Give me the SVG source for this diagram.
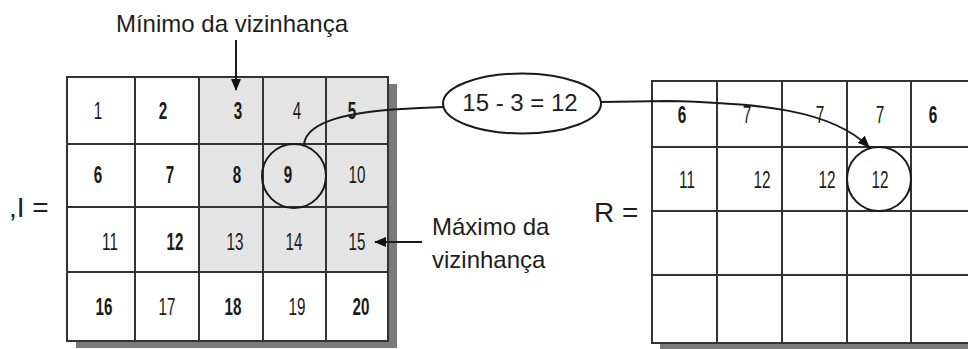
<svg xmlns="http://www.w3.org/2000/svg" width="968" height="349" viewBox="0 0 968 349">
<style>
.lbl{font-family:"Liberation Sans",Arial,sans-serif;font-size:24px;fill:#1e1e1e}
.eq{font-family:"Liberation Sans",Arial,sans-serif;font-size:28px;fill:#1e1e1e}
.n{font-family:"Liberation Sans",Arial,sans-serif;font-size:23px;fill:#1a1a1a;text-anchor:middle}
.r{font-size:24px}
.b{font-weight:bold}
.grid{fill:none;stroke:#333;stroke-width:2}
.shade{fill:#e4e4e4}
.shadow{fill:#7a7a7a}
.conn{fill:none;stroke:#1a1a1a;stroke-width:2}
.ring{fill:none;stroke:#1a1a1a;stroke-width:2}
</style>
<defs>
<marker id="ah" viewBox="0 0 12 10" refX="11" refY="5" markerWidth="12" markerHeight="10" markerUnits="userSpaceOnUse" orient="auto">
<path d="M0,0 L12,5 L0,10 Z" fill="#111"/>
</marker>
</defs>
<rect width="968" height="349" fill="#fff"/>

<g id="grid-I">
<rect class="shadow" x="388" y="84" width="9" height="264"/>
<rect class="shadow" x="76" y="341" width="321" height="7"/>
<rect x="67" y="77" width="321" height="264" fill="#fff"/>
<rect class="shade" x="199" y="77" width="189" height="195"/>
<path class="grid" d="M67,77 H388 V341 H67 Z M135,77 V341 M199,77 V341 M263,77 V341 M326,77 V341 M67,144 H388 M67,207 H388 M67,272 H388"/>
<text class="n" transform="translate(98 119) scale(0.66 1)">1</text>
<text class="n b" transform="translate(163 119) scale(0.66 1)">2</text>
<text class="n b" transform="translate(238 119) scale(0.66 1)">3</text>
<text class="n" transform="translate(297 119) scale(0.66 1)">4</text>
<text class="n b" transform="translate(352 119) scale(0.66 1)">5</text>
<text class="n b" transform="translate(98 183) scale(0.66 1)">6</text>
<text class="n b" transform="translate(170 183) scale(0.66 1)">7</text>
<text class="n b" transform="translate(237 183) scale(0.66 1)">8</text>
<text class="n b" transform="translate(288 183) scale(0.66 1)">9</text>
<text class="n" transform="translate(357 183) scale(0.66 1)">10</text>
<text class="n" transform="translate(110 250) scale(0.66 1)">11</text>
<text class="n b" transform="translate(175 250) scale(0.66 1)">12</text>
<text class="n" transform="translate(235 250) scale(0.66 1)">13</text>
<text class="n" transform="translate(294 250) scale(0.66 1)">14</text>
<text class="n" transform="translate(357 250) scale(0.66 1)">15</text>
<text class="n b" transform="translate(104 315) scale(0.66 1)">16</text>
<text class="n" transform="translate(167 315) scale(0.66 1)">17</text>
<text class="n b" transform="translate(233 315) scale(0.66 1)">18</text>
<text class="n" transform="translate(297 315) scale(0.66 1)">19</text>
<text class="n b" transform="translate(361 315) scale(0.66 1)">20</text>
</g>

<g id="circle-9"><circle class="ring" cx="294" cy="176" r="32"/></g>

<g id="label-I"><text class="eq" x="9" y="217">,I =</text></g>

<g id="label-min"><text class="lbl" x="232" y="32" text-anchor="middle">Mínimo da vizinhança</text></g>

<g id="label-max">
<text class="lbl" x="432" y="235">Máximo da</text>
<text class="lbl" x="432" y="268">vizinhança</text>
</g>

<g id="calc">
<ellipse class="ring" cx="522" cy="103.5" rx="79" ry="30" fill="#fff"/>
<text class="lbl" x="520" y="111" text-anchor="middle">15 - 3 = 12</text>
</g>

<g id="grid-R">
<rect class="shadow" x="660" y="343" width="308" height="6"/>
<path class="grid" d="M968,81 H652 V343 H968 M717,81 V343 M782,81 V343 M847,81 V343 M911,81 V343 M652,147 H968 M652,211 H968 M652,275 H968"/>
<text class="n r b" transform="translate(682 123) scale(0.64 1)">6</text>
<text class="n r" transform="translate(747 123) scale(0.64 1)">7</text>
<text class="n r" transform="translate(820 123) scale(0.64 1)">7</text>
<text class="n r" transform="translate(880 123) scale(0.64 1)">7</text>
<text class="n r b" transform="translate(933 123) scale(0.64 1)">6</text>
<text class="n r" transform="translate(687 188) scale(0.64 1)">11</text>
<text class="n r" transform="translate(762 188) scale(0.64 1)">12</text>
<text class="n r" transform="translate(827 188) scale(0.64 1)">12</text>
<text class="n r" transform="translate(880 188) scale(0.64 1)">12</text>
</g>

<g id="circle-12"><circle class="ring" cx="879" cy="179" r="32"/></g>

<g id="label-R"><text class="eq" x="594" y="222">R =</text></g>

<g id="connectors">
<path class="conn" d="M236,40 V90" marker-end="url(#ah)"/>
<path class="conn" d="M422,242 H375" marker-end="url(#ah)"/>
<path class="conn" d="M304,144 C307,122 345,111 420,108 L443,107"/>
<path class="conn" d="M601,102 L667,101 C760,103 832,110 869,147" marker-end="url(#ah)"/>
</g>
</svg>
